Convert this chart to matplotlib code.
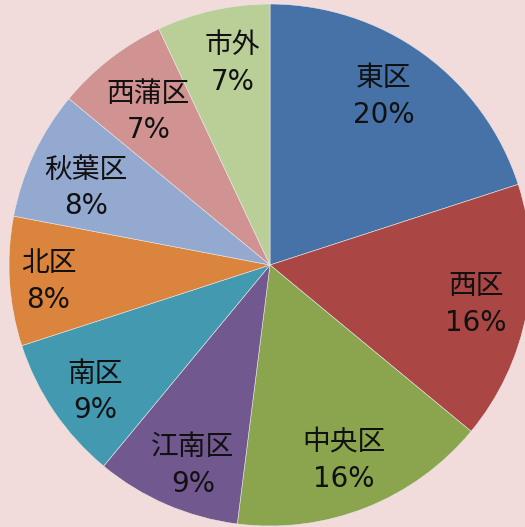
import numpy as np
import matplotlib.pyplot as plt

plt.rcParams['font.family'] = ['DejaVu Sans', 'Noto Sans CJK JP']

names = ["東区", "西区", "中央区", "江南区", "南区", "北区", "秋葉区", "西蒲区", "市外"]
shares = [20, 16, 16, 9, 9, 8, 8, 7, 7]
colors = ["#4672A7", "#AA4644", "#8AA54E", "#71588F", "#4299B0",
          "#DB843D", "#93A9D0", "#D19392", "#BACE97"]
# per-slice label distance (fraction of radius) and angle nudge, Excel best-fit style
label_r = [0.79, 0.80, 0.79, 0.81, 0.82, 0.85, 0.77, 0.76, 0.80]
label_da = [2.5, 1.0, -0.5, 2.0, 1.0, -0.3, 1.5, 0.0, -2.2]

bg = "#F2DCDB"
fig = plt.figure(figsize=(5.25, 5.27), dpi=100, facecolor=bg)
ax = fig.add_axes([9 / 525, 1 / 527, 522 / 525, 522 / 527])
ax.set_facecolor(bg)

wedges, _ = ax.pie(shares, colors=colors, startangle=90, counterclock=False,
                   radius=1.0,
                   wedgeprops=dict(edgecolor="#e8e8e8", linewidth=0.4))

for w, name, val, r, da in zip(wedges, names, shares, label_r, label_da):
    ang = np.deg2rad((w.theta1 + w.theta2) / 2 + da)
    x, y = r * np.cos(ang), r * np.sin(ang) - 0.014
    ax.text(x, y, f"{name}\n{val}%", ha="center", va="center",
            fontsize=20, color="#111111", linespacing=1.4)

ax.set_xlim(-1, 1)
ax.set_ylim(-1, 1)
ax.set_aspect("equal")
ax.axis("off")

fig.savefig("out.png", dpi=100, facecolor=bg)
